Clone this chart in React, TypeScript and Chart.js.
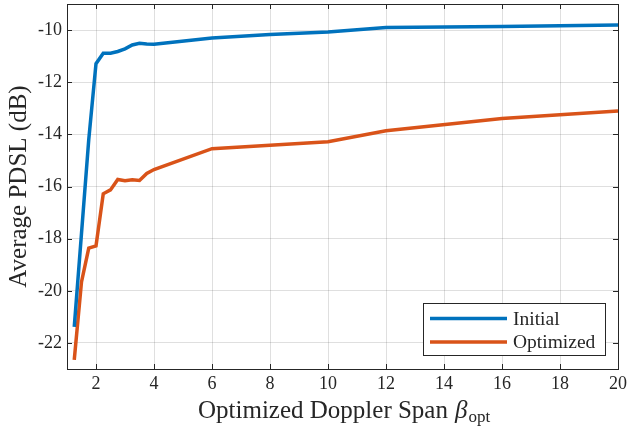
import React, { useEffect, useRef } from 'react';
import { Chart, registerables } from 'chart.js';

Chart.register(...registerables);

const spans = [1.25, 1.5, 1.75, 2, 2.25, 2.5, 2.75, 3, 3.25, 3.5, 3.75, 4, 6, 8, 10, 12, 16, 20];
const initialPdsl = [-21.38, -17.8, -14.2, -11.29, -10.89, -10.89, -10.82, -10.72, -10.57, -10.51, -10.53, -10.54, -10.3, -10.17, -10.07, -9.9, -9.86, -9.81];
const optimizedPdsl = [-22.65, -19.66, -18.36, -18.28, -16.28, -16.13, -15.73, -15.78, -15.74, -15.77, -15.5, -15.35, -14.55, -14.42, -14.28, -13.86, -13.39, -13.1];
const xTicks = [2, 4, 6, 8, 10, 12, 14, 16, 18, 20];
const yTicks = [-22, -20, -18, -16, -14, -12, -10];
const seriesNames = ['Initial', 'Optimized'];
const seriesColors = ['#0072BD', '#D95319'];

const SERIF = '"Liberation Serif", "DejaVu Serif", serif';
const AXIS_COLOR = '#262626';

const decorPlugin = {
  id: 'decor',
  afterDraw(chart: any) {
    const ctx = chart.ctx as CanvasRenderingContext2D;
    const { left, right, top, bottom } = chart.chartArea;
    const xs = chart.scales.x;
    const ys = chart.scales.y;
    ctx.save();
    // box
    ctx.strokeStyle = AXIS_COLOR;
    ctx.lineWidth = 1;
    ctx.strokeRect(Math.round(left) + 0.5, Math.round(top) + 0.5, Math.round(right - left), Math.round(bottom - top));
    // inward ticks
    const tl = 5;
    ctx.beginPath();
    xTicks.forEach((v) => {
      const px = Math.round(xs.getPixelForValue(v)) + 0.5;
      ctx.moveTo(px, bottom);
      ctx.lineTo(px, bottom - tl);
      ctx.moveTo(px, top);
      ctx.lineTo(px, top + tl);
    });
    yTicks.forEach((v) => {
      const py = Math.round(ys.getPixelForValue(v)) + 0.5;
      ctx.moveTo(left, py);
      ctx.lineTo(left + tl, py);
      ctx.moveTo(right, py);
      ctx.lineTo(right - tl, py);
    });
    ctx.stroke();

    // legend
    const lx = 423, ly = 303, lw = 182, lh = 52;
    ctx.fillStyle = '#ffffff';
    ctx.fillRect(lx, ly, lw, lh);
    ctx.strokeStyle = AXIS_COLOR;
    ctx.strokeRect(lx + 0.5, ly + 0.5, lw, lh);
    ctx.font = `19.5px ${SERIF}`;
    ctx.textBaseline = 'middle';
    ctx.textAlign = 'left';
    seriesNames.forEach((name, i) => {
      const yy = ly + 15.5 + i * 23.5;
      ctx.strokeStyle = seriesColors[i];
      ctx.lineWidth = 3.5;
      ctx.beginPath();
      ctx.moveTo(lx + 7, yy);
      ctx.lineTo(lx + 84, yy);
      ctx.stroke();
      ctx.fillStyle = AXIS_COLOR;
      ctx.fillText(name, lx + 90, yy + 1);
    });

    // x title with subscript
    const main = 'Optimized Doppler Span';
    const beta = '\u03B2';
    const sub = 'opt';
    ctx.fillStyle = AXIS_COLOR;
    ctx.textBaseline = 'alphabetic';
    ctx.font = `25px ${SERIF}`;
    const wMain = ctx.measureText(main).width;
    ctx.font = `italic 25px ${SERIF}`;
    const wBeta = ctx.measureText(beta).width;
    let sx = 198;
    const base = 418;
    ctx.font = `25px ${SERIF}`;
    ctx.fillText(main, sx, base);
    sx += wMain + 7;
    ctx.font = `italic 25px ${SERIF}`;
    ctx.fillText(beta, sx, base);
    sx += wBeta + 1;
    ctx.font = `17px ${SERIF}`;
    ctx.fillText(sub, sx, base + 4);
    ctx.restore();
  },
};

export default function App() {
  const canvasRef = useRef<HTMLCanvasElement | null>(null);

  useEffect(() => {
    document.body.style.margin = '0';
    const canvas = canvasRef.current;
    if (!canvas) return;
    const chart = new Chart(canvas, {
      type: 'line',
      data: {
        datasets: [
          {
            label: seriesNames[0],
            data: spans.map((x, i) => ({ x, y: initialPdsl[i] })),
            borderColor: seriesColors[0],
            backgroundColor: seriesColors[0],
            borderWidth: 3.5,
            pointRadius: 0,
            tension: 0,
          },
          {
            label: seriesNames[1],
            data: spans.map((x, i) => ({ x, y: optimizedPdsl[i] })),
            borderColor: seriesColors[1],
            backgroundColor: seriesColors[1],
            borderWidth: 3.5,
            pointRadius: 0,
            tension: 0,
          },
        ],
      },
      options: {
        animation: false,
        responsive: false,
        maintainAspectRatio: false,
        layout: { padding: { top: 4, right: 10, left: 0, bottom: 0 } },
        plugins: {
          legend: { display: false },
          tooltip: { enabled: false },
        },
        scales: {
          x: {
            type: 'linear',
            min: 1,
            max: 20,
            afterBuildTicks: (scale: any) => {
              scale.ticks = xTicks.map((v) => ({ value: v }));
            },
            afterFit: (scale: any) => {
              scale.height = 58;
              scale.paddingLeft = 0;
              scale.paddingRight = 0;
            },
            grid: { color: 'rgba(38,38,38,0.15)', lineWidth: 1, drawTicks: false },
            border: { display: false },
            ticks: {
              color: AXIS_COLOR,
              font: { family: SERIF, size: 18 },
              padding: 4,
              maxRotation: 0,
              autoSkip: false,
            },
          },
          y: {
            type: 'linear',
            min: -23,
            max: -9,
            afterBuildTicks: (scale: any) => {
              scale.ticks = yTicks.map((v) => ({ value: v }));
            },
            afterFit: (scale: any) => {
              scale.width = 67;
              scale.paddingTop = 0;
              scale.paddingBottom = 0;
            },
            grid: { color: 'rgba(38,38,38,0.15)', lineWidth: 1, drawTicks: false },
            border: { display: false },
            ticks: {
              color: AXIS_COLOR,
              font: { family: SERIF, size: 18 },
              padding: 5,
              autoSkip: false,
            },
            title: {
              display: true,
              text: 'Average PDSL (dB)',
              color: AXIS_COLOR,
              font: { family: SERIF, size: 25 },
              padding: { top: 4, bottom: 0 },
            },
          },
        },
      },
      plugins: [decorPlugin],
    });
    return () => chart.destroy();
  }, []);

  return (
    <div style={{ width: 628, height: 427 }}>
      <canvas ref={canvasRef} width={628} height={427} style={{ display: 'block' }} />
    </div>
  );
}
